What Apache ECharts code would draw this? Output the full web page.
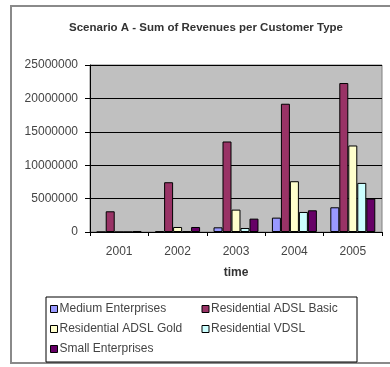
<!DOCTYPE html>
<html>
<head>
<meta charset="utf-8">
<script src="https://cdn.jsdelivr.net/npm/echarts@6/dist/echarts.min.js"></script>
<style>
html,body{margin:0;padding:0;background:#fff;}
#chart{width:390px;height:367px;}
</style>
</head>
<body>
<div id="chart"></div>
<script>
var titleText = 'Scenario A - Sum of Revenues per Customer Type';
var xAxisName = 'time';
var years = ['2001', '2002', '2003', '2004', '2005'];
var seriesNames = ['Medium Enterprises', 'Residential ADSL Basic', 'Residential ADSL Gold', 'Residential VDSL', 'Small Enterprises'];
var mediumEnterprises = [0, 100000, 700000, 2150000, 3700000];
var residentialAdslBasic = [3100000, 7450000, 13550000, 19200000, 22300000];
var residentialAdslGold = [0, 750000, 3350000, 7600000, 12950000];
var residentialVdsl = [0, 100000, 600000, 3000000, 7350000];
var smallEnterprises = [150000, 750000, 2000000, 3250000, 5000000];
var yTicks = [0, 5000000, 10000000, 15000000, 20000000, 25000000];

var seriesData = [mediumEnterprises, residentialAdslBasic, residentialAdslGold, residentialVdsl, smallEnterprises];
var colors = ['#9999FF', '#993366', '#FFFFCC', '#CCFFFF', '#660066'];
var font = 'Liberation Sans, Arial, sans-serif';

var chart = echarts.init(document.getElementById('chart'), null, {renderer: 'canvas'});
var series = seriesNames.map(function (n, i) {
  return {
    name: n,
    type: 'bar',
    data: seriesData[i],
    barGap: '0%',
    barCategoryGap: '23%',
    itemStyle: {color: colors[i], borderColor: '#000', borderWidth: 1},
    emphasis: {disabled: true}
  };
});

chart.setOption({
  animation: false,
  color: colors,
  graphic: [{
    type: 'rect',
    shape: {x: 11, y: 6, width: 390, height: 357},
    style: {fill: 'none', stroke: '#8a8a8a', lineWidth: 2},
    silent: true,
    z: -10
  }],
  title: {
    text: titleText,
    left: 201,
    textAlign: 'center',
    top: 17,
    textStyle: {fontFamily: font, fontSize: 11.5, fontWeight: 'bold', color: '#333'}
  },
  grid: {
    left: 90, right: 8, top: 65, bottom: 135,
    show: true,
    backgroundColor: '#C0C0C0',
    borderColor: '#808080',
    borderWidth: 1
  },
  legend: {
    data: seriesNames,
    left: 46,
    top: 297,
    width: 310,
    orient: 'horizontal',
    padding: [3, 6, 4, 4],
    itemWidth: 7,
    itemHeight: 7,
    itemGap: 2,
    borderColor: '#000',
    borderWidth: 1,
    backgroundColor: '#fff',
    icon: 'rect',
    itemStyle: {borderColor: '#000', borderWidth: 1},
    textStyle: {fontFamily: font, fontSize: 12, color: '#444', width: 140, lineHeight: 18, padding: [0, 0, 0, -3]},
    selectedMode: false
  },
  xAxis: {
    type: 'category',
    data: years,
    name: xAxisName,
    nameLocation: 'middle',
    nameGap: 35,
    nameTextStyle: {fontFamily: font, fontSize: 12, fontWeight: 'bold', color: '#333'},
    axisLine: {lineStyle: {color: '#000', width: 1}},
    axisTick: {show: true, length: 4, lineStyle: {color: '#000'}},
    axisLabel: {fontFamily: font, fontSize: 12, color: '#444', margin: 14},
    splitLine: {show: false}
  },
  yAxis: {
    type: 'value',
    min: yTicks[0],
    max: yTicks[yTicks.length - 1],
    interval: yTicks[1] - yTicks[0],
    axisLine: {show: true, lineStyle: {color: '#000', width: 1}},
    axisTick: {show: true, length: 5, lineStyle: {color: '#000'}},
    axisLabel: {fontFamily: font, fontSize: 12, color: '#444', margin: 12, formatter: function (v) { return String(v); }},
    splitLine: {show: true, lineStyle: {color: '#000', width: 1}}
  },
  series: series
});
</script>
</body>
</html>
